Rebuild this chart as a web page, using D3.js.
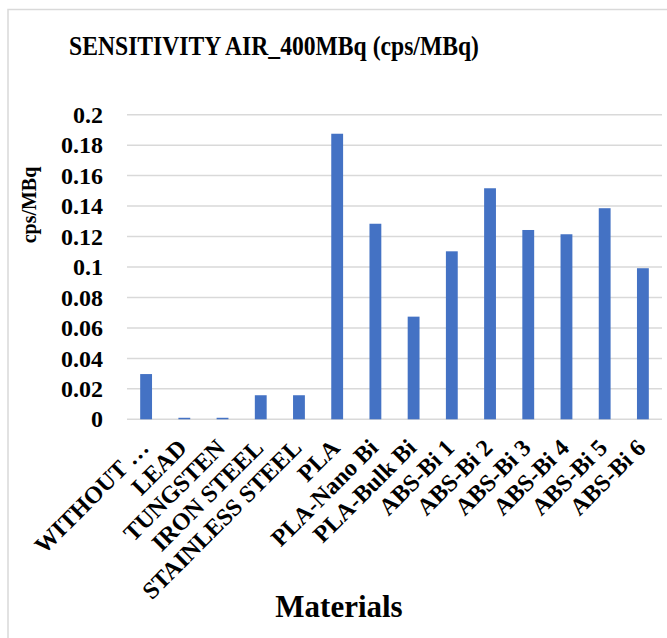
<!DOCTYPE html>
<html>
<head>
<meta charset="utf-8">
<script src="https://cdn.jsdelivr.net/npm/d3@7"></script>
</head>
<body style="margin:0">
<svg id="s" width="667" height="638"></svg>
<script>
// Sensitivity in air at 400 MBq, per shielding material
const materials = ["WITHOUT …", "LEAD", "TUNGSTEN", "IRON STEEL", "STAINLESS STEEL", "PLA",
  "PLA-Nano Bi", "PLA-Bulk Bi", "ABS-Bi 1", "ABS-Bi 2", "ABS-Bi 3", "ABS-Bi 4", "ABS-Bi 5", "ABS-Bi 6"];
const sensitivity = [0.0297, 0.001, 0.001, 0.0158, 0.0158, 0.1875,
  0.1284, 0.0674, 0.1103, 0.1517, 0.1243, 0.1215, 0.1386, 0.0992];
const yTicks = [0, 0.02, 0.04, 0.06, 0.08, 0.1, 0.12, 0.14, 0.16, 0.18, 0.2];

const titleText = "SENSITIVITY AIR_400MBq (cps/MBq)";
const yTitle = "cps/MBq";
const xTitle = "Materials";

const svg = d3.select("#s");
const W = 667, H = 638;
const plot = { left: 127, right: 662, top: 114.7, bottom: 419.3 };

function serifBold(sel, size) {
  return sel.style("font-family", () => "Liberation Serif").style("font-weight", "bold")
    .style("font-size", size + "px");
}

// chart area frame
svg.append("rect")
  .attr("x", 8).attr("y", 9.5)
  .attr("width", W + 10).attr("height", H + 10)
  .attr("fill", "#fff").attr("stroke", "#d9d9d9").attr("stroke-width", 1.5);

const x = d3.scaleBand().domain(materials).range([plot.left, plot.right]).paddingInner(0.69).paddingOuter(0.345);
const y = d3.scaleLinear().domain([0, 0.2]).range([plot.bottom, plot.top]);

// horizontal gridlines
svg.append("g").selectAll("line").data(yTicks).join("line")
  .attr("x1", plot.left).attr("x2", plot.right)
  .attr("y1", d => y(d)).attr("y2", d => y(d))
  .attr("stroke", "#d9d9d9").attr("stroke-width", 1.5);

// y axis labels
svg.append("g").selectAll("text").data(yTicks).join("text")
  .attr("x", 103).attr("y", d => y(d)).attr("dy", "0.34em")
  .attr("text-anchor", "end")
  .call(serifBold, 24)
  .text(d => String(+d.toFixed(2)));

// bars
svg.append("g").selectAll("rect").data(materials).join("rect")
  .attr("x", d => x(d))
  .attr("width", x.bandwidth())
  .attr("y", (d, i) => y(sensitivity[i]))
  .attr("height", (d, i) => y(0) - y(sensitivity[i]))
  .attr("fill", "#4472c4");

// category labels rotated -45°
svg.append("g").selectAll("text").data(materials).join("text")
  .attr("text-anchor", "end")
  .attr("transform", d => `translate(${x(d) + x.bandwidth() / 2 + 4},${plot.bottom + 30}) rotate(-45)`)
  .call(serifBold, 24)
  .text(d => d);

// titles
svg.append("text").attr("transform", "translate(274,55) scale(0.875,1)").attr("text-anchor", "middle")
  .call(serifBold, 27).text(titleText);
svg.append("text").attr("transform", "translate(36,205) rotate(-90)")
  .attr("text-anchor", "middle").call(serifBold, 20).text(yTitle);
svg.append("text").attr("x", 339).attr("y", 617).attr("text-anchor", "middle")
  .call(serifBold, 31).text(xTitle);
</script>
</body>
</html>
